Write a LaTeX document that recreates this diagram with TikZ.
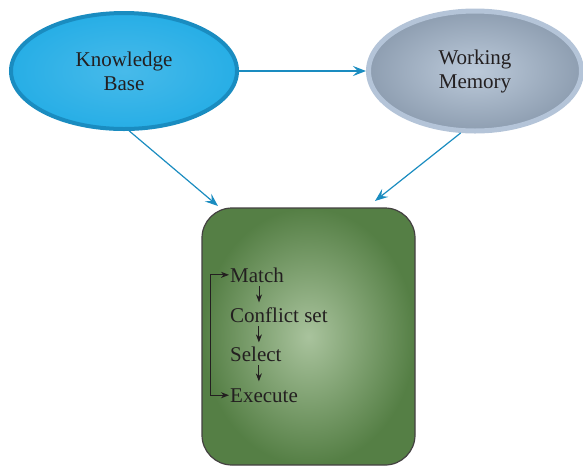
\documentclass[tikz,border=0pt]{standalone}
\usepackage{fontspec}
\setmainfont{Liberation Serif}
\usetikzlibrary{arrows.meta, positioning, shapes.geometric}
\definecolor{cblue}{HTML}{27AEE6}
\definecolor{cblueline}{HTML}{1A8CC0}
\definecolor{cslate}{HTML}{8E9EB1}
\definecolor{cslatelight}{HTML}{BCCADA}
\definecolor{cslateline}{HTML}{B4C4D8}
\definecolor{cgreen}{HTML}{557F45}
\definecolor{cgreenlight}{HTML}{A9C39D}
\definecolor{ctext}{HTML}{231F20}
\tikzset{
  every picture/.style={font=\fontsize{21}{24}\selectfont, text=ctext},
  blob/.style={ellipse, align=center, inner sep=0pt},
  arrow/.style={-{Stealth[length=13pt, width=10pt, inset=5pt]}, draw=cblueline, line width=1.2pt},
  tip/.tip={Stealth[length=8pt, width=6pt, inset=2.5pt]},
  cycle/.style={-tip, draw=ctext, line width=0.9pt},
  stage/.style={inner sep=1pt, anchor=base west},
}

\begin{document}
\begin{tikzpicture}[x=1pt, y=-1pt]
  \useasboundingbox (0,0) rectangle (583,467);
  % memories
  \node[blob, draw=cblueline, line width=4pt, inner color=cblue!85!white, outer color=cblue,
    minimum width=226pt, minimum height=116pt] (kb) at (124,71) {Knowledge\\Base};
  \node[blob, draw=cslateline, line width=5pt, inner color=cslatelight, outer color=cslate,
    minimum width=213pt, minimum height=120pt] (wm) at (475,71) {Working\\Memory};
  % inference engine
  \node[draw=ctext!85, line width=1.2pt, rounded corners=30pt, inner color=cgreenlight, outer color=cgreen,
    minimum width=213pt, minimum height=257pt] (box) at (308.5,336.5) {};
  \node[stage] (match) at (229,282) {Match};
  \node[stage] (conf) at (229,322) {Conflict set};
  \node[stage] (sel) at (229,361) {Select};
  \node[stage] (exe) at (229,402) {Execute};
  \draw[cycle] ([xshift=2pt, yshift=-3pt]match.south) -- ++(0,16);
  \draw[cycle] ([xshift=-20pt, yshift=-3pt]conf.south) -- ++(0,16);
  \draw[cycle] ([xshift=3pt, yshift=-3pt]sel.south) -- ++(0,16);
  \draw[cycle, tip-tip] (exe.west) -- ++(-19,0) |- (match.west);
  % connectors
  \coordinate (kbin) at (218,206);
  \coordinate (wmin) at (375,201);
  \draw[arrow] (kb.east) -- (wm.west);
  \draw[arrow] (kb.-85) -- (kbin);
  \draw[arrow] (wm.-103) -- (wmin);
\end{tikzpicture}
\end{document}
